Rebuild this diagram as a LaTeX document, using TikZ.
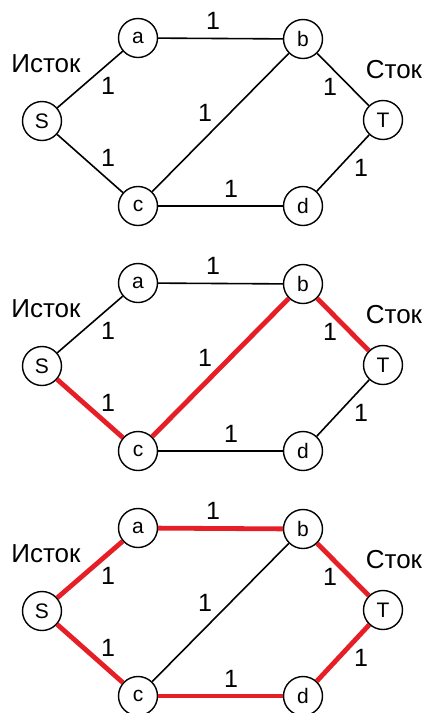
\documentclass[tikz,border=0pt]{standalone}
\usepackage{fontspec}
\setmainfont{Liberation Sans}
\definecolor{flowred}{RGB}{230,30,38}

\tikzset{
	vert/.style={circle,draw,fill=white,line width=1.4pt,minimum size=39pt,inner sep=0pt,font=\fontsize{21}{21}\selectfont},
	plain/.style={line width=1.6pt},
	flow/.style={line width=4.8pt,draw=flowred},
	capnum/.style={font=\fontsize{25}{25}\selectfont},
	side/.style={font=\fontsize{26}{26}\selectfont}
}

\begin{document}
\begin{tikzpicture}[x=1pt,y=-1pt]
				\useasboundingbox (0,0) rectangle (427,713);
				%% three copies: plain net, then two flows
				\foreach \g/\sa/\sc/\ab/\cb/\bt/\cd/\dt in {0/plain/plain/plain/plain/plain/plain/plain,
					1/plain/flow/plain/flow/flow/plain/plain,
					2/flow/flow/flow/plain/flow/flow/flow}{
					\begin{scope}[yshift=-\g*245pt]
						\node[vert] (a) at (138,38) {a};
						\node[vert] (b) at (303,39) {b};
						\node[vert] (S) at (42,121) {S};
						\node[vert] (T) at (383,120) {T};
						\node[vert] (c) at (138,206) {c};
						\node[vert] (d) at (303,206) {d};
						
						\draw[\sa] (S) -- (a);
						\draw[\sc] (S) -- (c);
						\draw[\ab] (a) -- (b);
						\draw[\cb] (c) -- (b);
						\draw[\bt] (b) -- (T);
						\draw[\cd] (c) -- (d);
						\draw[\dt] (d) -- (T);
						
						%% capacities
						\node[capnum] (lab) at (213,21) {1};
						\node[capnum] (lsa) at (108,86) {1};
						\node[capnum] (lsc) at (108,158) {1};
						\node[capnum] (lcb) at (205,113) {1};
						\node[capnum] (lbt) at (330,87) {1};
						\node[capnum] (ldt) at (361,168) {1};
						\node[capnum] (lcd) at (231,189) {1};
						
						\node[side] (src) at (46,64) {Исток};
						\node[side] (snk) at (394,70) {Сток};
					\end{scope}
				}
\end{tikzpicture}
\end{document}
